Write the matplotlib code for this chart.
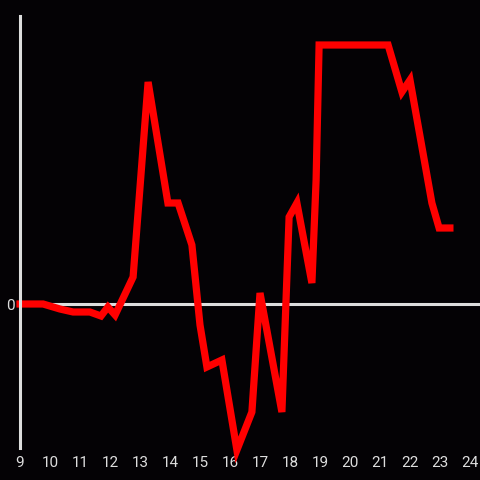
import matplotlib
matplotlib.use("Agg")
import matplotlib.pyplot as plt

# hours of day and the measured value (zero line at 0)
hours = [9.0, 9.77, 10.33, 10.77, 11.33, 11.7, 11.93, 12.17, 12.77, 13.27,
         13.93, 14.27, 14.73, 15.0, 15.23, 15.73, 16.23, 16.73, 17.0, 17.73,
         17.97, 18.23, 18.73, 18.87, 18.97, 21.27, 21.73, 22.0, 22.73, 22.97, 23.33]
values = [0, 0, -5, -8, -8, -12, -3, -11, 27, 222,
          101, 101, 59, -21, -63, -56, -146, -108, 11, -108,
          87, 101, 21, 124, 259, 259, 212, 224, 101, 76, 76]
xticks = list(range(9, 25))

bg = '#040205'
fg = '#dddddd'

plt.rcParams['font.family'] = ['Roboto', 'DejaVu Sans']

fig = plt.figure(figsize=(4.8, 4.8), dpi=100, facecolor=bg)
ax = fig.add_axes([20/480, 32/480, 460/480, 432/480], facecolor=bg)

ax.axhline(0, color=fg, linewidth=2.2, zorder=1)
ax.plot(hours, values, color='#ff0000', linewidth=5.2, solid_joinstyle='miter',
        clip_on=False, zorder=2)

ax.set_xlim(9, 9 + 460/30)
ax.set_ylim(-144, 288)
ax.set_xticks(xticks)
ax.set_yticks([0])

for s in ['top', 'right', 'bottom']:
    ax.spines[s].set_visible(False)
ax.spines['left'].set_color(fg)
ax.spines['left'].set_linewidth(2.2)

ax.tick_params(axis='both', length=0, colors=fg, labelsize=11)
ax.tick_params(axis='x', pad=6)
ax.tick_params(axis='y', pad=4)

fig.savefig('out.png', dpi=100, facecolor=bg)
